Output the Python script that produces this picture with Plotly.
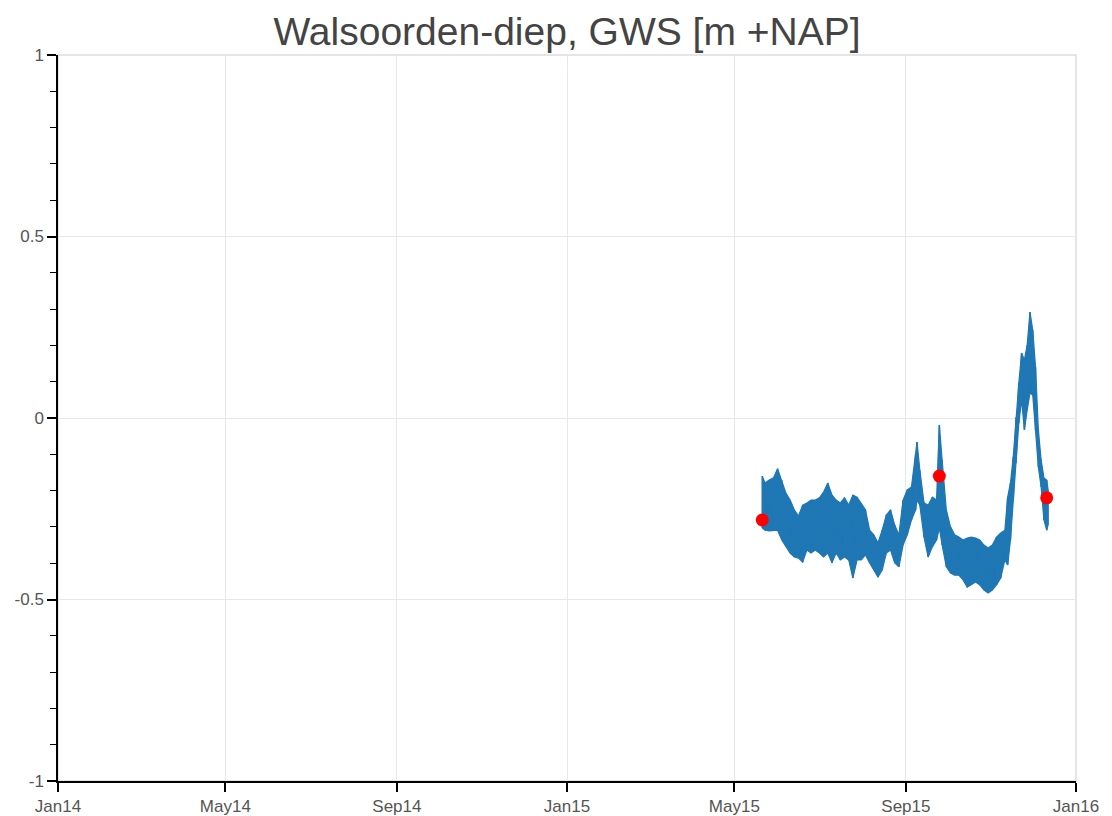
import plotly.graph_objects as go

# Envelope of the measured groundwater series (upper / lower edge of the noisy band)
dates = ["2015-05-21", "2015-05-23", "2015-05-26", "2015-05-29", "2015-06-01", "2015-06-04",
         "2015-06-07", "2015-06-10", "2015-06-13", "2015-06-16", "2015-06-19", "2015-06-22",
         "2015-06-25", "2015-06-28", "2015-07-01", "2015-07-04", "2015-07-07", "2015-07-10",
         "2015-07-13", "2015-07-16", "2015-07-19", "2015-07-22", "2015-07-25", "2015-07-28",
         "2015-07-31", "2015-08-03", "2015-08-06", "2015-08-09", "2015-08-12", "2015-08-15",
         "2015-08-18", "2015-08-21", "2015-08-24", "2015-08-27", "2015-08-30", "2015-09-02",
         "2015-09-05", "2015-09-08", "2015-09-09", "2015-09-11", "2015-09-14", "2015-09-17",
         "2015-09-20", "2015-09-23", "2015-09-25", "2015-09-27", "2015-09-30", "2015-10-03",
         "2015-10-06", "2015-10-09", "2015-10-12", "2015-10-15", "2015-10-18", "2015-10-21",
         "2015-10-24", "2015-10-27", "2015-10-30", "2015-11-02", "2015-11-05", "2015-11-08",
         "2015-11-11", "2015-11-13", "2015-11-15", "2015-11-17", "2015-11-19", "2015-11-21",
         "2015-11-23", "2015-11-25", "2015-11-27", "2015-11-29", "2015-12-01", "2015-12-03",
         "2015-12-05", "2015-12-07", "2015-12-09", "2015-12-11", "2015-12-12"]

gws_high = [-0.160, -0.179, -0.171, -0.165, -0.140, -0.171, -0.207, -0.226, -0.253, -0.270,
            -0.240, -0.234, -0.226, -0.226, -0.220, -0.204, -0.179, -0.212, -0.226, -0.234,
            -0.220, -0.240, -0.212, -0.218, -0.234, -0.253, -0.309, -0.322, -0.344, -0.309,
            -0.267, -0.253, -0.295, -0.322, -0.226, -0.198, -0.190, -0.102, -0.066, -0.143,
            -0.234, -0.240, -0.218, -0.226, -0.019, -0.116, -0.253, -0.300, -0.322, -0.328,
            -0.336, -0.331, -0.328, -0.331, -0.336, -0.350, -0.358, -0.350, -0.328, -0.317,
            -0.309, -0.218, -0.179, -0.107, 0.003, 0.096, 0.179, 0.160, 0.201, 0.292,
            0.242, 0.140, -0.033, -0.116, -0.165, -0.171, -0.198]

gws_low = [-0.303, -0.309, -0.311, -0.309, -0.309, -0.336, -0.355, -0.372, -0.383, -0.386,
           -0.397, -0.364, -0.372, -0.364, -0.372, -0.383, -0.372, -0.399, -0.372, -0.391,
           -0.383, -0.391, -0.441, -0.391, -0.391, -0.377, -0.399, -0.419, -0.438, -0.419,
           -0.372, -0.364, -0.399, -0.410, -0.350, -0.322, -0.281, -0.253, -0.226, -0.240,
           -0.328, -0.383, -0.355, -0.336, -0.303, -0.350, -0.410, -0.427, -0.433, -0.433,
           -0.446, -0.466, -0.460, -0.452, -0.460, -0.474, -0.482, -0.474, -0.460, -0.441,
           -0.391, -0.405, -0.336, -0.226, -0.124, -0.014, 0.050, -0.033, 0.022, 0.069,
           0.063, -0.033, -0.135, -0.190, -0.281, -0.309, -0.295]

# Manual (hand) readings shown as red dots
hand_dates = ["2015-05-21", "2015-09-25", "2015-12-11"]
hand_values = [-0.281, -0.160, -0.220]

x_tickvals = ["2014-01-01", "2014-05-01", "2014-09-01", "2015-01-01",
              "2015-05-01", "2015-09-01", "2016-01-01"]
x_ticktext = ["Jan14", "May14", "Sep14", "Jan15", "May15", "Sep15", "Jan16"]
y_tickvals = [-1, -0.5, 0, 0.5, 1]
y_ticktext = ["-1", "-0.5", "0", "0.5", "1"]

BLUE = "#1f77b4"

# zig-zag path through the envelope to give the band its texture
zz_x, zz_y = [], []
for d, h, l in zip(dates, gws_high, gws_low):
    zz_x += [d, d]
    zz_y += [h, l]

fig = go.Figure()
fig.add_trace(go.Scatter(x=dates, y=gws_high, mode="lines",
                         line=dict(color=BLUE, width=1.2), hoverinfo="skip", showlegend=False))
fig.add_trace(go.Scatter(x=dates, y=gws_low, mode="lines", fill="tonexty",
                         fillcolor=BLUE, line=dict(color=BLUE, width=1.2),
                         hoverinfo="skip", showlegend=False))
fig.add_trace(go.Scatter(x=zz_x, y=zz_y, mode="lines",
                         line=dict(color=BLUE, width=1.5), showlegend=False))
fig.add_trace(go.Scatter(x=hand_dates, y=hand_values, mode="markers",
                         marker=dict(color="red", size=13, line=dict(width=0)),
                         showlegend=False))

axis_font = dict(family="Liberation Sans, Arial, sans-serif", size=17, color="#555555")

fig.update_layout(
    width=1112, height=816,
    margin=dict(l=58, r=36, t=55, b=35, pad=0),
    paper_bgcolor="white", plot_bgcolor="white",
    title=dict(text="Walsoorden-diep, GWS [m +NAP]", xref="paper", x=0.5, xanchor="center",
               y=0.961, yanchor="middle",
               font=dict(family="Liberation Sans, Arial, sans-serif", size=39, color="#444444")),
    xaxis=dict(range=["2014-01-01", "2016-01-01"], tickvals=x_tickvals, ticktext=x_ticktext,
               showgrid=True, gridcolor="#e8e8e8", gridwidth=1,
               showline=True, linecolor="black", linewidth=1.5,
               ticks="outside", ticklen=9, tickcolor="black", tickwidth=1.5,
               tickfont=axis_font, zeroline=False, automargin=False),
    yaxis=dict(range=[-1, 1], tickvals=y_tickvals, ticktext=y_ticktext,
               showgrid=True, gridcolor="#e8e8e8", gridwidth=1,
               showline=True, linecolor="black", linewidth=1.5,
               ticks="outside", ticklen=9, tickcolor="black", tickwidth=1.5,
               tickfont=axis_font, zeroline=False, automargin=False,
               minor=dict(dtick=0.1, ticks="outside", ticklen=6, tickcolor="black",
                          tickwidth=1, showgrid=False)),
    shapes=[dict(type="rect", xref="paper", yref="paper", x0=0, x1=1, y0=0, y1=1,
                 line=dict(color="#dddddd", width=1.5), layer="below")],
)

fig.write_html("out.html", config={"displayModeBar": False},
               post_script="document.body.style.margin='0';")
